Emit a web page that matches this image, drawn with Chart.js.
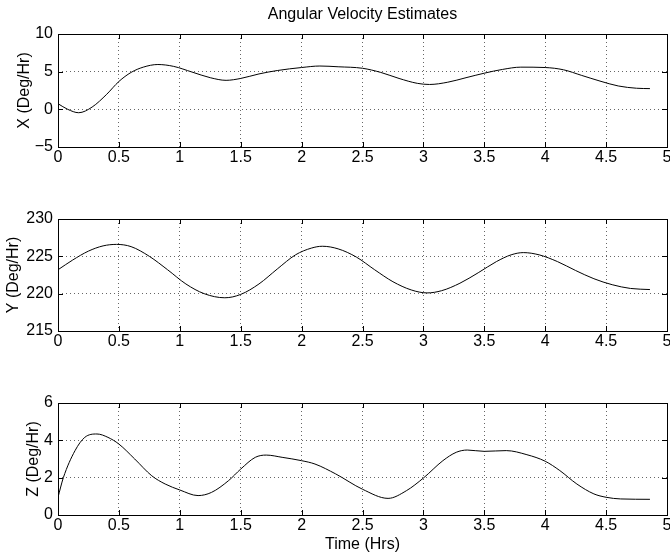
<!DOCTYPE html>
<html>
<head>
<meta charset="utf-8">
<script src="https://cdn.jsdelivr.net/npm/chart.js@4"></script>
<style>
  html, body { margin: 0; padding: 0; background: #fff; }
  #wrap { position: relative; width: 670px; height: 556px; }
  .plot { position: absolute; left: 0; width: 670px; }
</style>
</head>
<body>
<div id="wrap">
  <div class="plot" style="top:0;height:185px"><canvas id="cx"></canvas></div>
  <div class="plot" style="top:185px;height:185px"><canvas id="cy"></canvas></div>
  <div class="plot" style="top:370px;height:186px"><canvas id="cz"></canvas></div>
</div>
<script>
// data (time in hours)
const titleText = 'Angular Velocity Estimates';
const xLabel = 'Time (Hrs)';

const tX = [0, 0.08, 0.17, 0.28, 0.4, 0.5, 0.6, 0.7, 0.82, 0.95, 1.1, 1.25, 1.38, 1.5, 1.65, 1.8, 2.0, 2.15, 2.3, 2.5, 2.65, 2.8, 2.95, 3.05, 3.2, 3.35, 3.5, 3.65, 3.8, 4.0, 4.15, 4.3, 4.45, 4.6, 4.75, 4.86];
const xVals = [0.75, 0.0, -0.45, 0.3, 2.0, 3.7, 4.9, 5.6, 5.95, 5.7, 4.95, 4.2, 3.85, 4.1, 4.7, 5.15, 5.55, 5.75, 5.65, 5.45, 4.9, 4.1, 3.45, 3.3, 3.6, 4.2, 4.8, 5.3, 5.6, 5.55, 5.25, 4.5, 3.75, 3.1, 2.8, 2.75];

const tY = [0, 0.12, 0.25, 0.37, 0.48, 0.6, 0.75, 0.9, 1.05, 1.2, 1.37, 1.5, 1.65, 1.8, 1.95, 2.08, 2.17, 2.3, 2.45, 2.6, 2.75, 2.9, 3.03, 3.15, 3.3, 3.45, 3.6, 3.72, 3.82, 3.95, 4.1, 4.25, 4.4, 4.55, 4.7, 4.86];
const yVals = [223.2, 224.5, 225.7, 226.4, 226.6, 226.3, 225.0, 223.2, 221.3, 220.0, 219.45, 219.9, 221.3, 223.3, 225.2, 226.1, 226.35, 226.0, 224.9, 223.2, 221.6, 220.5, 220.1, 220.4, 221.4, 222.8, 224.3, 225.2, 225.5, 225.2, 224.3, 223.1, 222.0, 221.2, 220.7, 220.55];

const tZ = [0, 0.044, 0.14, 0.22, 0.32, 0.41, 0.5, 0.63, 0.77, 0.88, 1.0, 1.15, 1.26, 1.4, 1.5, 1.62, 1.71, 1.84, 2.0, 2.11, 2.28, 2.5, 2.71, 2.86, 3.0, 3.16, 3.27, 3.36, 3.5, 3.68, 3.85, 4.0, 4.12, 4.26, 4.4, 4.5, 4.62, 4.86];
const zVals = [0.95, 2.0, 3.45, 4.16, 4.34, 4.16, 3.8, 3.0, 2.1, 1.66, 1.34, 1.04, 1.21, 1.84, 2.46, 3.09, 3.21, 3.09, 2.91, 2.73, 2.2, 1.38, 0.89, 1.3, 1.98, 2.91, 3.36, 3.48, 3.41, 3.45, 3.23, 2.88, 2.38, 1.66, 1.13, 0.95, 0.86, 0.84];

// axis ranges / ticks  [min, max, step]
const timeTicks = [0, 5, 0.5];
const xRange = [-5, 10, 5];
const yRange = [215, 230, 5];
const zRange = [0, 6, 2];

const FONT = "'Liberation Sans', Arial, Helvetica, sans-serif";

// box around plot area + inward tick marks, matlab style
const boxPlugin = {
    id: 'box',
    afterDraw(chart) {
        const { ctx, chartArea: a, scales } = chart;
        ctx.save();
        ctx.strokeStyle = '#000';
        ctx.lineWidth = 1;
        ctx.strokeRect(Math.round(a.left) + 0.5, Math.round(a.top) + 0.5, Math.round(a.right - a.left), Math.round(a.bottom - a.top));
        ctx.beginPath();
        scales.x.ticks.forEach(t => {
            const px = Math.round(scales.x.getPixelForValue(t.value)) + 0.5;
            ctx.moveTo(px, a.bottom); ctx.lineTo(px, a.bottom - 5);
            ctx.moveTo(px, a.top); ctx.lineTo(px, a.top + 5);
        });
        scales.y.ticks.forEach(t => {
            const py = Math.round(scales.y.getPixelForValue(t.value)) + 0.5;
            ctx.moveTo(a.left, py); ctx.lineTo(a.left + 5, py);
            ctx.moveTo(a.right, py); ctx.lineTo(a.right - 5, py);
        });
        ctx.stroke();
        ctx.restore();
    }
};

function makePlot(id, times, vals, range, label, opts) {
    const pts = times.map((t, i) => ({ x: t, y: vals[i] }));
    new Chart(document.getElementById(id), {
        type: 'line',
        data: { datasets: [{ data: pts, borderColor: '#000', borderWidth: 1, pointRadius: 0, cubicInterpolationMode: 'monotone', fill: false }] },
        options: {
            responsive: true, maintainAspectRatio: false, animation: false,
            layout: { padding: { top: opts.padTop, right: 3, left: 0, bottom: 0 } },
            plugins: {
                legend: { display: false },
                tooltip: { enabled: false },
                title: {
                    display: !!opts.title, text: opts.title || '', fullSize: false, color: '#000',
                    font: { family: FONT, size: 16, weight: 'normal' }, padding: { top: 5, bottom: 9.8 }
                }
            },
            scales: {
                x: {
                    type: 'linear', min: timeTicks[0], max: timeTicks[1],
                    ticks: { stepSize: timeTicks[2], color: '#000', padding: 1, maxRotation: 0, font: { family: FONT, size: 16 },
                        callback: v => String(v) },
                    grid: { color: 'rgba(0,0,0,0.6)', drawTicks: false },
                    border: { display: false, dash: [1, 3] },
                    title: { display: !!opts.xTitle, text: opts.xTitle || '', color: '#000', font: { family: FONT, size: 16 }, padding: { top: 0, bottom: 1.4 } },
                    afterFit: s => { s.height = opts.xH; s.paddingLeft = 0; s.paddingRight = 0; }
                },
                y: {
                    min: range[0], max: range[1],
                    ticks: { stepSize: range[2], color: '#000', padding: 5, font: { family: FONT, size: 16 },
                        callback: v => String(v).replace('-', '\u2212') },
                    grid: { color: 'rgba(0,0,0,0.6)', drawTicks: false },
                    border: { display: false, dash: [1, 3] },
                    title: { display: true, text: label, color: '#000', font: { family: FONT, size: 16 }, padding: { top: opts.labelX - 9.6, bottom: 0 } },
                    afterFit: s => { s.width = 58; s.paddingTop = 0; s.paddingBottom = 0; }
                }
            }
        },
        plugins: [boxPlugin]
    });
}

makePlot('cx', tX, xVals, xRange, 'X (Deg/Hr)', { padTop: 0, xH: 38, title: titleText, labelX: 25 });
makePlot('cy', tY, yVals, yRange, 'Y (Deg/Hr)', { padTop: 34, xH: 39, labelX: 14 });
makePlot('cz', tZ, zVals, zRange, 'Z (Deg/Hr)', { padTop: 33, xH: 41, xTitle: xLabel, labelX: 34 });
</script>
</body>
</html>
